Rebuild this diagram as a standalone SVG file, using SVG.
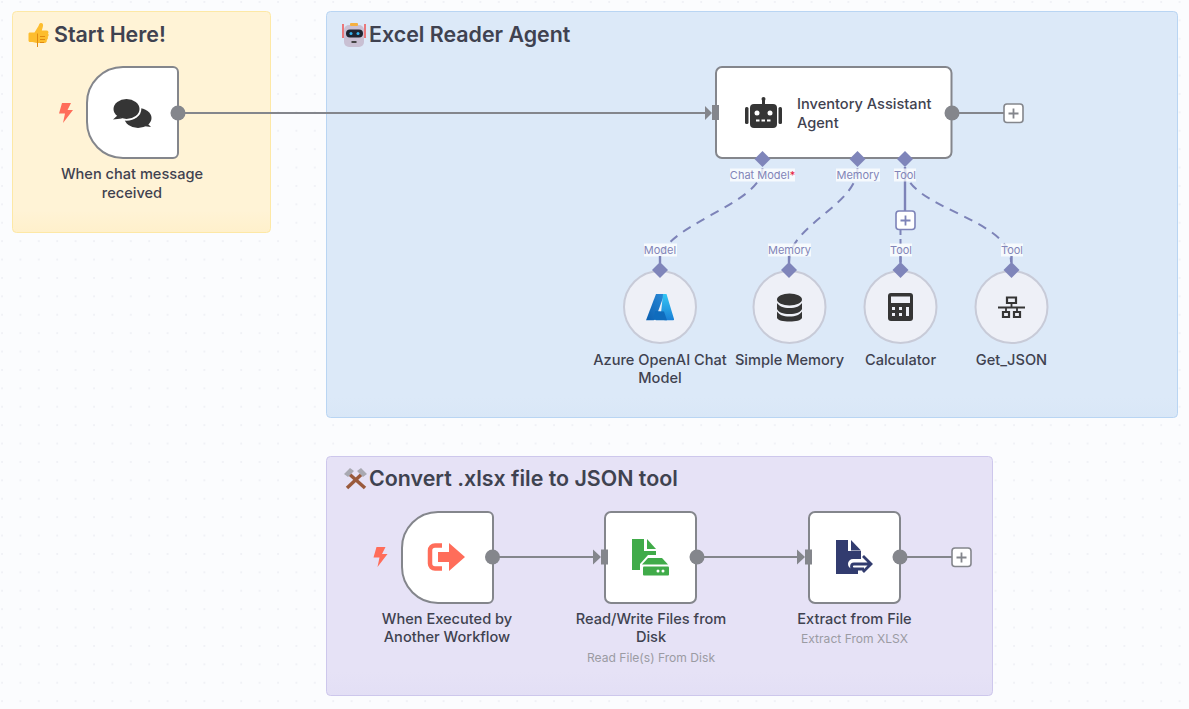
<svg xmlns="http://www.w3.org/2000/svg" width="1189" height="709" viewBox="0 0 1189 709">
<style>
text{font-family:"Inter","Liberation Sans",sans-serif;fill:#3f4250}
.title{font-size:21.4px;font-weight:600}
.name{font-size:14.6px;font-weight:450;text-anchor:middle}
.sub{font-size:12.1px;fill:#9b9ba3;text-anchor:middle}
.port{font-size:11px;fill:#8285b8;text-anchor:middle}
.box{fill:#fff;stroke:#84868c;stroke-width:2}
.circ{fill:#eef0f7;stroke:#c8cbd8;stroke-width:2}
.main{fill:none;stroke:#84868c;stroke-width:2}
.dash{fill:none;stroke:#7d83b8;stroke-width:2;stroke-dasharray:9 7}
.sol{fill:none;stroke:#7d83b8;stroke-width:2.400}
.dot{fill:#84868c}
.dia{fill:#7f85ba}
.lab{fill:#fff;fill-opacity:.75}
.ic{fill:#353535}
.plus{fill:#fff;stroke:#84868c;stroke-width:1.6}
.pm{fill:none;stroke:#84868c;stroke-width:1.8}
.pplus{fill:#fff;stroke:#7d83b8;stroke-width:1.6}
.pmp{fill:none;stroke:#7d83b8;stroke-width:1.8}
</style>
<defs>
<pattern id="grid" width="18.4" height="18.4" patternUnits="userSpaceOnUse"><circle cx="2" cy="2" r=".7" fill="#dfe1ea"/></pattern>
<linearGradient id="gy" x1="0" y1="0" x2="0" y2="1"><stop offset=".9" stop-color="#fff3d6"/><stop offset="1" stop-color="#fff0cb"/></linearGradient>
<linearGradient id="gb" x1="0" y1="0" x2="0" y2="1"><stop offset=".95" stop-color="#dce9f8"/><stop offset="1" stop-color="#d9e7f7"/></linearGradient>
<linearGradient id="gp" x1="0" y1="0" x2="0" y2="1"><stop offset=".9" stop-color="#e6e2f6"/><stop offset="1" stop-color="#e3dff5"/></linearGradient>
<linearGradient id="az" x1="0" y1="1" x2="1" y2="0"><stop offset="0" stop-color="#0a5fb0"/><stop offset="1" stop-color="#2a8ad8"/></linearGradient>
<linearGradient id="az2" x1="0" y1="0" x2="0" y2="1"><stop offset="0" stop-color="#33c6f4"/><stop offset="1" stop-color="#1a80d6"/></linearGradient>
<path id="bolt" d="M5 0H14L10.500 7H16L6 20L8 10.500H2Z" fill="#ff6d5a"/>
</defs>
<rect width="1189" height="709" fill="#fbfcfe"/>
<rect width="1189" height="709" fill="url(#grid)"/>

<g id="sticky-start">
<rect x="12.500" y="11.500" width="258" height="221" rx="4" fill="url(#gy)" stroke="#fde8a6"/>
<g transform="translate(0 3.500)">
<path d="M30 29h4.500l4-6.500c.6-1.500 .8-3 2.500-3 2 0 2.500 2 1.800 4l-1 3.500h4.700c2 0 2.500 2 1.500 3 1 1 .8 2.600-.3 3.300 .6 1.200 .2 2.600-.9 3.200 .4 1.500-.6 3-2.300 3H37c-2 0-3-.8-4.500-1H30c-1 0-1.500-.6-1.500-1.500V30.500c0-1 .5-1.500 1.500-1.500Z" fill="#fdbd2e"/>
<path d="M37.500 30v13.500M40 33h5M40 36h5M40 39h4" stroke="#e08a10" stroke-width="1" fill="none"/>
</g>
<text class="title" x="54" y="42">Start Here!</text>
</g>
<g id="sticky-agent">
<rect x="326.500" y="11.500" width="851" height="406" rx="4" fill="url(#gb)" stroke="#b9d5f3"/>
<g>
<rect x="344" y="25" width="20" height="22" rx="5" fill="#c9c0d3"/>
<rect x="350" y="23" width="8" height="3" rx="1" fill="#f5b040"/>
<path d="M343 24v14M365 24v14" stroke="#ef5350" stroke-width="1.500"/>
<rect x="346" y="29.500" width="17" height="8" rx="4" fill="#1f2430"/>
<circle cx="351" cy="33.500" r="1.500" fill="#35b4f0"/><circle cx="358" cy="33.500" r="1.500" fill="#35b4f0"/>
<rect x="351.500" y="41" width="5" height="2" fill="#444"/>
</g>
<text class="title" x="369" y="42">Excel Reader Agent</text>
</g>
<g id="sticky-tool">
<rect x="326.500" y="456.500" width="666" height="239" rx="4" fill="url(#gp)" stroke="#cdc7ec"/>
<g>
<path d="M347 472L365 488" stroke="#9a5a3c" stroke-width="3.500"/>
<path d="M364 472L347 488" stroke="#9a5a3c" stroke-width="3.500"/>
<path d="M344 474l6-6 4 3-6 6ZM367 474l-6-6-4 3 6 6Z" fill="#a9a9b2"/>
</g>
<text class="title" x="369" y="486">Convert .xlsx file to JSON tool</text>
</g>

<g id="node-chat">
<use href="#bolt" x="57" y="103"/>
<path class="box" d="M123 67H173a5 5 0 0 1 5 5V153a5 5 0 0 1-5 5H123a36 36 0 0 1-36-36V103a36 36 0 0 1 36-36Z"/>
<circle class="dot" cx="178" cy="113" r="7.500"/>
<ellipse class="ic" cx="138" cy="118" rx="13.500" ry="10"/><path class="ic" d="M146 122l5 5-8-1Z"/>
<ellipse class="ic" cx="126.500" cy="109" rx="14.800" ry="11.800" style="fill:#fff"/>
<ellipse class="ic" cx="126.500" cy="109" rx="13" ry="10"/><path class="ic" d="M118 115l-5 4.500 9-1Z"/>
<text class="name" x="132" y="179">When chat message</text><text class="name" x="132" y="198">received</text>
</g>
<g id="node-agent">
<rect class="box" x="716" y="67" width="235.500" height="91" rx="6"/>
<circle class="dot" cx="952" cy="113" r="7.500"/>
<rect class="ic" x="750" y="104" width="27" height="24" rx="4"/><rect class="ic" x="745" y="107" width="3.500" height="17" rx="1.500"/><rect class="ic" x="778.500" y="107" width="3.500" height="17" rx="1.500"/><rect class="ic" x="762" y="99" width="3" height="6"/><circle class="ic" cx="763.500" cy="99" r="2"/>
<circle cx="757" cy="113" r="2.500" fill="#fff"/><circle cx="770" cy="113" r="2.500" fill="#fff"/><path d="M756 120.500h15" stroke="#fff" stroke-width="2" stroke-dasharray="3.500 2"/>
<text class="name" x="797" y="109" style="text-anchor:start">Inventory Assistant</text><text class="name" x="797" y="128" style="text-anchor:start">Agent</text>
<path class="dia" d="M762.500 151l8 8-8 8-8-8ZM857.500 151l8 8-8 8-8-8ZM905 151l8 8-8 8-8-8Z"/>
</g>
<g id="node-azure">
<circle class="circ" cx="660" cy="307" r="36"/>
<path d="M656 294h8.500L655 319.500c-.3.500-.8.800-1.500.800H646Z" fill="url(#az)"/>
<path d="M663 294h3.500L674 319a1 1 0 0 1-1 1.300h-8.500L661 313Z" fill="url(#az2)"/>
<path d="M655 311l9 .5 3 8.800h-11l-2-1Z" fill="#0f6cbd"/>
<path class="dia" d="M660 262l8 8-8 8-8-8Z"/>
<text class="name" x="660" y="365">Azure OpenAI Chat</text><text class="name" x="660" y="383">Model</text>
</g>
<g id="node-memory">
<circle class="circ" cx="789.500" cy="307" r="36"/>
<ellipse class="ic" cx="789.500" cy="299.500" rx="12.500" ry="6"/>
<path class="ic" d="M777 303c2 3 6 5 12.500 5s10.500-2 12.500-5v6c-1 3-6 5-12.500 5s-11.500-2-12.500-5Z"/>
<path class="ic" d="M777 311.500c2 3 6 5 12.500 5s10.500-2 12.500-5v6.500c-1 2.500-6 3.500-12.500 3.500s-11.500-1-12.500-3.500Z"/>
<path class="dia" d="M789 262l8 8-8 8-8-8Z"/>
<text class="name" x="789.500" y="365">Simple Memory</text>
</g>
<g id="node-calc">
<circle class="circ" cx="900.500" cy="307" r="36"/>
<rect class="ic" x="888" y="293" width="25" height="28" rx="3"/>
<rect x="891" y="296.500" width="19" height="6.500" fill="#eef0f7"/>
<path d="M892 307h3v3h-3ZM899 307h3v3h-3ZM892 313h3v3h-3ZM899 313h3v3h-3ZM906 307h3v9h-3Z" fill="#eef0f7"/>
<path class="dia" d="M900.500 262l8 8-8 8-8-8Z"/>
<text class="name" x="900.500" y="365">Calculator</text>
</g>
<g id="node-json">
<circle class="circ" cx="1011.500" cy="307" r="36"/>
<path d="M1007 297.500h9v5.500h-9ZM1003 312h6v5h-6ZM1014 312h6v5h-6Z" fill="none" stroke="#353535" stroke-width="2.200"/>
<path d="M1011.500 303v4M998 307.500h27M1006 307.500v4M1017 307.500v4" fill="none" stroke="#353535" stroke-width="1.800"/>
<path class="dia" d="M1011.500 262l8 8-8 8-8-8Z"/>
<text class="name" x="1011.500" y="365">Get_JSON</text>
</g>
<g id="node-trigger">
<use href="#bolt" x="371.500" y="547"/>
<path class="box" d="M438 512H488a5 5 0 0 1 5 5V598a5 5 0 0 1-5 5H438a36 36 0 0 1-36-36V548a36 36 0 0 1 36-36Z"/>
<circle class="dot" cx="492.500" cy="557" r="7.500"/>
<path d="M442 545.500h-7a5 5 0 0 0-5 5v13a5 5 0 0 0 5 5h7" fill="none" stroke="#ff6d5a" stroke-width="4.500"/>
<path d="M438 552H449V543L465 557L449 571V562H438Z" fill="#ff6d5a"/>
<text class="name" x="447" y="623.500">When Executed by</text><text class="name" x="447" y="641.500">Another Workflow</text>
</g>
<g id="node-read">
<rect class="box" x="605" y="512" width="91" height="91" rx="6"/>
<circle class="dot" cx="697" cy="557" r="7.500"/>
<path d="M632 539H644V551H656V555H648L640 564V570H632Z" fill="#40ab49"/><path d="M647 539L656 549H647Z" fill="#40ab49"/>
<path d="M648 558h14l6 6.500h-26Z" fill="#40ab49"/><rect x="643" y="566.500" width="26" height="9" rx="1" fill="#40ab49"/><circle cx="658" cy="571" r="1.500" fill="#fff"/><circle cx="663" cy="571" r="1.500" fill="#fff"/>
<text class="name" x="651" y="623.500">Read/Write Files from</text><text class="name" x="651" y="641.500">Disk</text>
<text class="sub" x="651" y="662">Read File(s) From Disk</text>
</g>
<g id="node-extract">
<rect class="box" x="809" y="512" width="91" height="91" rx="6"/>
<circle class="dot" cx="900" cy="557" r="7.500"/>
<path d="M836 540H848V551H861V559H853a5 5 0 0 0 0 10h5v5H836Z" fill="#323c6f"/><path d="M851 540L861 550.500H851Z" fill="#323c6f"/>
<path d="M870 564H854a2.500 2.500 0 0 0 0 5H864M863 556l8 8-8 8" fill="none" stroke="#323c6f" stroke-width="2.800"/>
<text class="name" x="854.500" y="623.500">Extract from File</text>
<text class="sub" x="854.500" y="643">Extract From XLSX</text>
</g>

<g id="connectors">
<path class="main" d="M178 113H706"/><path class="dot" d="M705 106l7 7-7 7Z"/><rect class="dot" x="712" y="105" width="7" height="15"/>
<path class="main" d="M952 113H1004"/>
<path class="main" d="M492 557H594"/><path class="dot" d="M593 549.500l8 7.500-8 7.500Z"/><rect class="dot" x="601" y="549.500" width="7" height="15"/>
<path class="main" d="M697 557H798"/><path class="dot" d="M797 549.500l8 7.500-8 7.500Z"/><rect class="dot" x="805" y="549.500" width="7" height="15"/>
<path class="main" d="M900 557H952"/>
<path class="dash" d="M762.500 168C762.500 205 660 225 660 262"/>
<path class="dash" d="M857.500 168C857.500 205 789 225 789 262"/>
<path class="dash" d="M905 168C905 208 1011 218 1011 262"/>
<path class="sol" d="M905 167V211"/>
<path class="dash" style="stroke-dasharray:5 4" d="M900.500 230V262"/>
<rect class="lab" x="730" y="168.500" width="65" height="13"/><text class="port" x="762.500" y="179">Chat Model<tspan fill="#e5203a">*</tspan></text>
<rect class="lab" x="836" y="168.500" width="44" height="13"/><text class="port" x="858" y="179">Memory</text>
<rect class="lab" x="894" y="168.500" width="22" height="13"/><text class="port" x="905" y="179">Tool</text>
<rect class="lab" x="644" y="243.500" width="33" height="13"/><text class="port" x="660" y="254">Model</text>
<rect class="lab" x="768" y="243.500" width="43" height="13"/><text class="port" x="789.500" y="254">Memory</text>
<rect class="lab" x="890" y="243.500" width="22" height="13"/><text class="port" x="901" y="254">Tool</text>
<rect class="lab" x="1001" y="243.500" width="22" height="13"/><text class="port" x="1012" y="254">Tool</text>
<path class="sol" d="M660 256V263M789 256V263M900.500 256V263M1011.500 256V263"/>
<g id="add-agent"><rect class="plus" x="1004" y="104" width="19" height="18.500" rx="3"/><path class="pm" d="M1013.500 108.500v10M1008.500 113.500h10"/></g>
<g id="add-tool"><rect class="pplus" x="896" y="211" width="19" height="18.500" rx="3"/><path class="pmp" d="M905.500 215.500v10M900.500 220.500h10"/></g>
<g id="add-extract"><rect class="plus" x="952" y="548" width="19" height="18.500" rx="3"/><path class="pm" d="M961.500 552.500v10M956.500 557.500h10"/></g>
</g>
</svg>
